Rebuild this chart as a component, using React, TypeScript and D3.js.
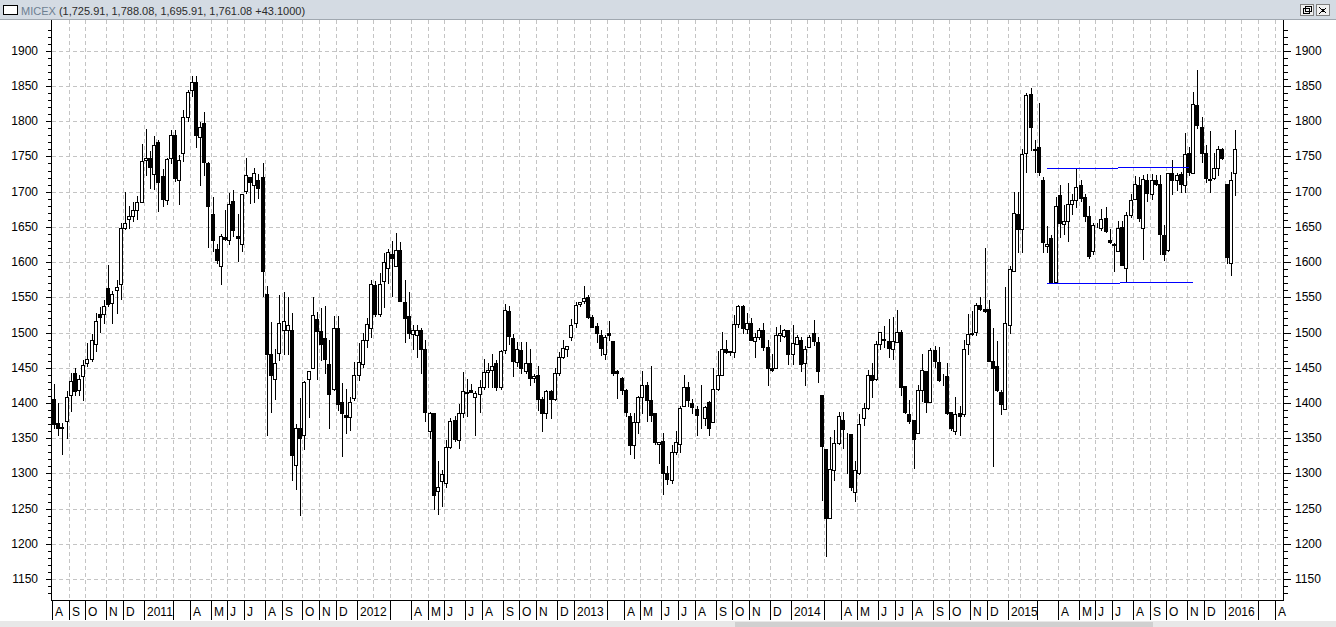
import React from "react";
import * as d3 from "d3";

// ---- weekly OHLC data (MICEX), Aug 2010 .. Jan 2016 ----
const opens: number[] = [
  1406,1372,1366,1374,1411,1442,1418,1438,1457,1463,
  1483,1526,1526,1563,1542,1560,1569,1649,1661,1666,
  1674,1686,1745,1748,1725,1771,1722,1688,1748,1780,
  1716,1755,1806,1845,1855,1777,1797,1740,1668,1618,
  1595,1636,1631,1687,1637,1626,1701,1721,1710,1717,
  1721,1554,1469,1434,1471,1503,1504,1503,1312,1364,
  1354,1434,1449,1519,1502,
  1492,1455,1420,1506,1401,
  1383,1380,1407,1439,1455,1490,1507,1568,1526,1573,
  1592,1612,1595,1617,1544,1523,1498,1496,1504,1476,
  1360,1386,1275,1289,1287,1338,1376,1348,
  1386,1416,1418,1408,1412,1422,1444,1447,1456,1422,1475,1530,
  1492,1458,1475,1446,1456,1435,1439,1405,1386,1417,
  1406,1442,1465,1477,1493,1513,1540,1545,1550,1522,1509,
  1497,1470,1499,1488,1446,1436,1419,1381,1340,1373,1408,1426,1404,1385,1342,1346,1301,
  1290,1330,1342,1396,1423,1400,1392,1383,1379,1401,1373,1420,1440,1477,1472,1473,
  1512,1538,1505,1514,1488,1493,1504,1479,1450,1450,1496,1495,1503,1469,1484,1490,1456,1480,1499,1486,
  1411,1335,1236,1305,1343,1376,1358,1356,1274,1300,1378,1393,1440,
  1434,1484,1489,1488,1477,1487,1501,1424,1384,1376,1358,1418,1446,1401,1475,1458,1432,1438,1387,1360,1385,1384,1483,1498,1501,1539,1533,1534,1460,1453,1416,1391,
  1511,1588,1668,1647,1755,1839,1760,1763,1716,1623,1634,1571,1695,1654,1658,1682,1688,1709,1692,1665,1616,1652,1648,1663,1632,1626,1616,1650,1592,1667,1690,1710,
  1649,1716,1696,1717,1711,1639,1617,1726,1716,1725,1709,1755,1726,1823,1792,1755,1716,1720,1733,1761,1711,1599,1725.91,
];
const highs: number[] = [
  1427,1400,1372,1417,1442,1450,1440,1461,1485,1498,
  1528,1536,1546,1596,1559,1574,1656,1700,1680,1685,
  1694,1768,1789,1757,1779,1773,1732,1748,1787,1787,
  1752,1816,1845,1864,1864,1799,1813,1742,1693,1626,
  1640,1674,1698,1703,1668,1697,1748,1721,1734,1725,
  1740,1566,1515,1477,1553,1558,1550,1527,1370,1407,
  1431,1445,1550,1529,1535,
  1537,1490,1524,1523,1428,
  1420,1408,1458,1485,1499,1520,1574,1573,1584,1613,
  1618,1630,1641,1628,1575,1557,1511,1510,1506,1490,
  1387,1386,1318,1305,1348,1378,1382,1398,
  1444,1434,1427,1417,1432,1462,1457,1469,1461,1475,1541,1537,
  1498,1486,1486,1486,1476,1441,1452,1409,1418,1418,
  1449,1473,1490,1481,1519,1544,1544,1566,1553,1525,1513,
  1503,1497,1516,1488,1447,1437,1420,1385,1385,1410,1446,1430,1453,1385,1344,1357,1310,
  1340,1360,1395,1439,1430,1406,1395,1425,1395,1403,1449,1474,1501,1489,1474,1525,
  1539,1539,1527,1520,1499,1507,1513,1489,1470,1508,1510,1505,1504,1511,1496,1494,1481,1497,1518,1494,
  1411,1335,1351,1362,1387,1387,1358,1356,1318,1384,1400,1447,1457,
  1488,1501,1509,1519,1522,1532,1503,1424,1404,1376,1425,1469,1446,1478,1481,1480,1441,1456,1387,1408,1396,1489,1526,1530,1542,1550,1620,1546,1506,1488,1419,1565,
  1594,1699,1699,1761,1840,1847,1774,1826,1721,1651,1639,1692,1709,1681,1712,1697,1733,1716,1697,1679,1655,1656,1675,1678,1647,1627,1659,1659,1671,1696,1722,1721,
  1723,1725,1725,1723,1723,1652,1727,1745,1726,1728,1783,1764,1842,1873,1806,1766,1786,1755,1765,1762,1711,1728,1788.08,
];
const lows: number[] = [
  1364,1355,1327,1350,1389,1411,1411,1404,1452,1459,
  1474,1501,1514,1537,1514,1528,1547,1647,1648,1658,
  1661,1686,1723,1705,1704,1673,1680,1682,1740,1715,
  1682,1744,1800,1836,1764,1709,1723,1621,1616,1599,
  1569,1632,1626,1637,1602,1616,1698,1684,1685,1691,
  1552,1354,1387,1406,1461,1469,1469,1290,1278,1241,
  1335,1380,1449,1434,1461,
  1443,1364,1419,1390,1324,
  1358,1361,1404,1432,1451,1480,1494,1524,1523,1536,
  1570,1552,1594,1545,1487,1492,1477,1465,1442,1375,
  1350,1249,1242,1254,1280,1336,1346,1336,
  1380,1381,1415,1355,1387,1420,1423,1423,1418,1420,1471,1484,
  1438,1452,1443,1443,1425,1430,1390,1360,1378,1378,
  1404,1439,1464,1467,1490,1508,1537,1542,1520,1508,1487,
  1468,1462,1490,1439,1407,1413,1381,1328,1322,1358,1386,1374,1374,1341,1315,1271,1285,
  1286,1327,1331,1395,1395,1385,1354,1365,1368,1355,1373,1418,1439,1471,1468,1465,
  1508,1499,1499,1489,1465,1491,1475,1425,1446,1449,1488,1494,1455,1455,1484,1446,1426,1479,1482,1430,
  1262,1182,1236,1290,1342,1336,1301,1277,1261,1299,1368,1391,1409,
  1432,1477,1479,1465,1463,1486,1411,1385,1372,1307,1358,1403,1387,1401,1451,1431,1425,1384,1362,1356,1355,1382,1470,1496,1496,1532,1529,1460,1311,1417,1384,1391,
  1500,1588,1614,1614,1728,1759,1728,1723,1614,1614,1571,1571,1635,1640,1630,1668,1678,1687,1659,1606,1612,1650,1645,1642,1627,1587,1616,1596,1571,1664,1689,1659,
  1604,1687,1690,1710,1611,1603,1616,1697,1702,1699,1699,1723,1726,1790,1742,1714,1699,1718,1723,1746,1599,1582,1695.91,
];
const closes: number[] = [
  1370,1365,1364,1409,1431,1417,1434,1454,1463,1490,
  1517,1522,1538,1541,1555,1564,1648,1655,1666,1674,
  1686,1744,1748,1735,1766,1713,1690,1747,1780,1720,
  1745,1806,1842,1855,1780,1792,1742,1680,1632,1603,
  1637,1633,1683,1646,1634,1697,1723,1714,1726,1705,
  1587,1469,1439,1457,1514,1516,1510,1326,1364,1350,
  1430,1445,1525,1502,1484,
  1462,1412,1506,1398,1385,
  1380,1401,1439,1458,1490,1512,1569,1526,1569,1600,
  1614,1606,1617,1545,1520,1500,1504,1504,1476,1387,
  1386,1269,1281,1299,1338,1375,1349,1386,
  1417,1414,1416,1414,1422,1444,1447,1453,1423,1474,1532,1495,
  1460,1476,1449,1456,1436,1438,1405,1386,1417,1406,
  1442,1465,1478,1481,1511,1539,1544,1549,1522,1508,1499,
  1478,1493,1496,1442,1442,1419,1387,1340,1373,1408,1426,1404,1383,1344,1344,1301,1292,
  1330,1344,1393,1423,1404,1394,1383,1383,1394,1365,1420,1440,1477,1473,1474,1512,
  1538,1506,1514,1490,1493,1504,1480,1450,1447,1496,1500,1503,1469,1485,1493,1455,1477,1494,1488,1446,
  1339,1237,1306,1343,1382,1363,1357,1280,1305,1370,1393,1439,1432,
  1484,1501,1491,1478,1488,1501,1423,1387,1375,1349,1418,1447,1401,1475,1460,1433,1433,1386,1365,1384,1382,1476,1498,1500,1539,1534,1530,1460,1450,1419,1398,1513,
  1590,1669,1647,1754,1837,1792,1759,1728,1628,1626,1571,1680,1656,1658,1682,1688,1707,1691,1666,1609,1652,1653,1661,1644,1629,1624,1648,1596,1667,1688,1711,1663,
  1718,1698,1717,1711,1640,1612,1726,1717,1723,1711,1753,1728,1825,1794,1755,1720,1718,1733,1760,1748,1607,1717,1761.08,
];

// month boundaries (candle index of first week of each month) and axis labels
const monthStart: number[] = [
  0,4,8,13,17,
  22,25,29,33,38,42,46,51,55,60,64,68,
  73,77,81,86,90,94,99,103,108,112,116,121,
  125,129,133,137,141,146,150,154,159,163,167,172,
  177,181,185,189,193,198,202,206,211,215,220,224,
  229,232,236,241,246,250,254,259,263,267,272,276,
  281,285,289,293,
];
const monthLabel: (string | null)[] = [
  "A","S","O","N","D",
  "2011",null,"","A","M","J","J","A","S","O","N","D",
  "2012",null,"","A","M","J","J","A","S","O","N","D",
  "2013",null,"","A","M","J","J","A","S","O","N","D",
  "2014",null,"","A","M","J","J","A","S","O","N","D",
  "2015",null,"","A","M","J","J","A","S","O","N","D",
  "2016",null,"","A",
];

const yTicks: number[] = d3.range(1150, 1901, 50);
const yMinorTicks: number[] = d3.range(1110, 1931, 10);

// drawn support / resistance lines: [startIndex, endIndex, level]
const lineStart: number[] = [237.9, 254.9, 237.9, 255.4];
const lineEnd: number[] = [254.9, 272.0, 255.4, 272.9];
const lineLevel: number[] = [1733, 1735, 1570, 1572];

const title = "MICEX";
const titleValues = "(1,725.91, 1,788.08, 1,695.91, 1,761.08 +43.1000)";

const W = 1336;
const H = 627;
const FONT = "'Liberation Sans', Arial, sans-serif";

export default function App() {
  const n = opens.length;
  const plotL = 51, plotR = 1283, plotT = 20, plotB = 600;
  const x = d3.scaleLinear().domain([0, 283]).range([54, 1235]);
  const y = d3.scaleLinear().domain([1150, 1850]).range([579, 86]);
  const px = (i: number) => Math.round(x(i));
  const py = (v: number) => Math.round(y(v));

  const candles = d3.range(n).map((i) => {
    const o = opens[i], c = closes[i], h = highs[i], l = lows[i];
    const cx = px(i);
    const up = c >= o;
    const top = py(Math.max(o, c));
    const bot = py(Math.min(o, c));
    return (
      <g key={i}>
        <line x1={cx + 0.5} x2={cx + 0.5} y1={py(h)} y2={py(l) + 1} stroke="#000" strokeWidth={1} />
        <rect
          x={cx - 1.5}
          y={top + 0.5}
          width={3}
          height={Math.max(bot - top, 0)}
          fill={up ? "#fff" : "#000"}
          stroke="#000"
          strokeWidth={1}
        />
      </g>
    );
  });

  return (
    <svg
      width={W}
      height={H}
      style={{ position: "absolute", left: 0, top: 0, display: "block", background: "#fff" }}
      shapeRendering="crispEdges"
    >
      {/* title bar */}
      <rect x={0} y={0} width={W} height={20} fill="#d4dbe3" />
      <line x1={0} x2={W} y1={19.5} y2={19.5} stroke="#a0a8b0" />
      <rect x={3.5} y={5.5} width={14} height={9} fill="#fff" stroke="#000" />
      <text x={21} y={15} fontFamily={FONT} fontSize={11} fill="#2b2b2b">
        <tspan fill="#6d7f92">{title}</tspan> {titleValues}
      </text>
      <rect x={1300.5} y={4.5} width={13} height={11} fill="#f0f0f0" stroke="#808080" />
      <rect x={1316.5} y={4.5} width={13} height={11} fill="#f0f0f0" stroke="#808080" />
      <rect x={1303.5} y={8.5} width={6} height={5} fill="none" stroke="#000" />
      <rect x={1305.5} y={6.5} width={6} height={5} fill="none" stroke="#000" />
      <path d="M1319.5,7.5 L1326.5,13.5 M1326.5,7.5 L1319.5,13.5" stroke="#000" />

      {/* plot background */}
      <rect x={plotL} y={plotT} width={plotR - plotL} height={plotB - plotT} fill="#fff" />

      {/* grid */}
      {yTicks.map((v) => (
        <line key={"hg" + v} x1={plotL + 1} x2={plotR} y1={py(v) + 0.5} y2={py(v) + 0.5}
          stroke="#c4c4c4" strokeDasharray="4,3" />
      ))}
      {monthStart.map((m, k) => m > 0 ? (
        <line key={"vg" + k} x1={px(m) - 2 + 0.5} x2={px(m) - 2 + 0.5} y1={plotT} y2={plotB}
          stroke="#c4c4c4" strokeDasharray="4,3" />
      ) : null)}

      {/* axes */}
      <line x1={plotL + 0.5} x2={plotL + 0.5} y1={plotT} y2={plotB} stroke="#000" />
      <line x1={plotR + 0.5} x2={plotR + 0.5} y1={plotT} y2={plotB} stroke="#000" />
      {yMinorTicks.filter((v) => y(v) > plotT && y(v) < plotB).map((v) => {
        const major = v % 50 === 0;
        return (
          <g key={"t" + v}>
            <line x1={plotL - (major ? 5 : 3)} x2={plotL} y1={py(v) + 0.5} y2={py(v) + 0.5} stroke="#000" />
            <line x1={plotR + 1} x2={plotR + 1 + (major ? 7 : 4)} y1={py(v) + 0.5} y2={py(v) + 0.5} stroke="#000" />
          </g>
        );
      })}
      {yTicks.map((v) => (
        <g key={"yl" + v} fontFamily={FONT} fontSize={12} fill="#000">
          <text x={38} y={py(v) + 4} textAnchor="end">{v}</text>
          <text x={1295} y={py(v) + 4} textAnchor="start">{v}</text>
        </g>
      ))}

      {/* candles */}
      {candles}

      {/* drawn lines */}
      {lineLevel.map((v, k) => (
        <line key={"bl" + k} x1={x(lineStart[k])} x2={x(lineEnd[k])} y1={py(v) + 0.5} y2={py(v) + 0.5}
          stroke="#0000ff" />
      ))}

      {/* x axis */}
      <line x1={plotL} x2={plotR + 1} y1={plotB + 0.5} y2={plotB + 0.5} stroke="#000" />
      {monthStart.map((m, k) => {
        const lab = monthLabel[k];
        if (lab === null) return null;
        const sx = px(m) - 2;
        if (sx > plotR) return null;
        return (
          <g key={"xl" + k}>
            <line x1={sx + 0.5} x2={sx + 0.5} y1={plotB + 1} y2={plotB + 20} stroke="#000" />
            <text x={sx + 3} y={plotB + 16} fontFamily={FONT} fontSize={12} fill="#000">{lab}</text>
          </g>
        );
      })}

      {/* bottom scroll bar */}
      <rect x={0} y={621} width={W} height={6} fill="#e8e8e8" />
      <rect x={735} y={622} width={418} height={5} fill="#d0d0d0" />
    </svg>
  );
}
